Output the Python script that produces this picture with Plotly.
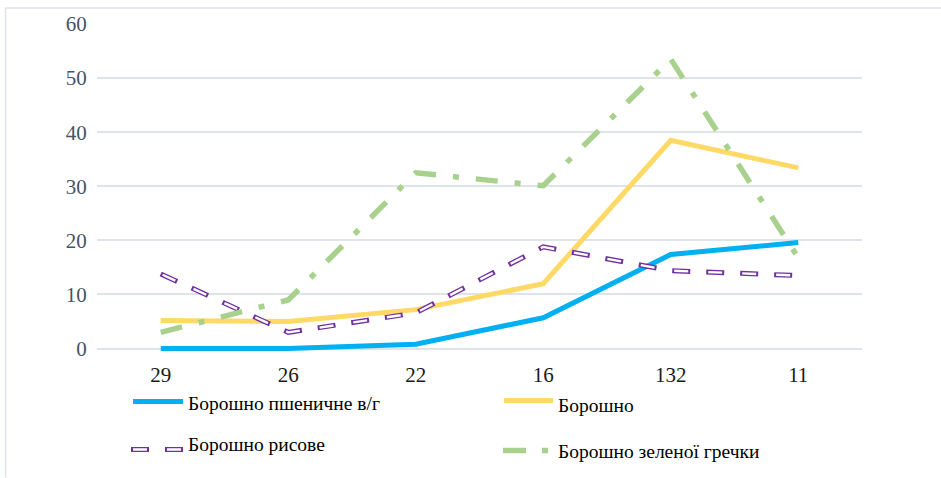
import plotly.graph_objects as go

# Samples along the x axis
categories = ["29", "26", "22", "16", "132", "11"]

# Series values
wheat_hg = [0.0, 0.0, 0.8, 5.7, 17.4, 19.6]
flour = [5.2, 5.0, 7.2, 12.0, 38.5, 33.4]
rice = [13.8, 3.0, 6.6, 18.8, 14.4, 13.5]
green_buckwheat = [3.0, 9.0, 32.5, 30.1, 53.5, 16.8]

series_names = [
    "Борошно пшеничне в/г",
    "Борошно",
    "Борошно рисове",
    "Борошно зеленої гречки",
]

y_ticks = [0, 10, 20, 30, 40, 50, 60]
y_range = [-1, 60]

BLUE = "#00b0f0"
YELLOW = "#ffd966"
PURPLE = "#7030a0"
GREEN = "#a9d18e"
SERIF = "Liberation Serif, Times New Roman, serif"

W, H = 941, 478
UNIT = 5.417          # pixels per y unit
ZERO_Y = 349          # pixel row of the y = 0 gridline
L, R, T = 97, 79, 24
B = H - (ZERO_Y - y_range[0] * UNIT)
PW, PH = W - L - R, H - T - B

RICE_OUTER = "18px,16px"
RICE_INNER = "0px,2px,14px,18px"
BUCK_DASH = "22px,17px,6px,17px"

fig = go.Figure()

fig.add_trace(go.Scatter(x=categories, y=wheat_hg, mode="lines", name=series_names[0],
                         line=dict(color=BLUE, width=5)))
fig.add_trace(go.Scatter(x=categories, y=flour, mode="lines", name=series_names[1],
                         line=dict(color=YELLOW, width=5)))
# hollow dashes: purple stroke with a thinner white stroke inside
fig.add_trace(go.Scatter(x=categories, y=rice, mode="lines", name=series_names[2],
                         line=dict(color=PURPLE, width=5, dash=RICE_OUTER)))
fig.add_trace(go.Scatter(x=categories, y=rice, mode="lines", showlegend=False,
                         hoverinfo="skip",
                         line=dict(color="white", width=2.4, dash=RICE_INNER)))
fig.add_trace(go.Scatter(x=categories, y=green_buckwheat, mode="lines", name=series_names[3],
                         line=dict(color=GREEN, width=5.5, dash=BUCK_DASH)))


def px(x):
    return (x - L) / PW


def py(y):
    return (H - B - y) / PH


shapes = [
    # outer frame lines
    dict(type="line", xref="paper", yref="paper", x0=px(5), x1=px(941), y0=py(8), y1=py(8),
         line=dict(color="#dfe3ea", width=1.5)),
    dict(type="line", xref="paper", yref="paper", x0=px(5.5), x1=px(5.5), y0=py(8), y1=py(478),
         line=dict(color="#dfe3ea", width=1.5)),
]

# legend keys
legend_items = [
    (series_names[0], 133, 183, 402, 186, 404, dict(color=BLUE, width=5)),
    (series_names[1], 504, 553, 401, 556, 406, dict(color=YELLOW, width=5)),
    (series_names[2], 131, 184, 450, 186, 445, None),
    (series_names[3], 503, 553, 451, 556, 452, dict(color=GREEN, width=5.5, dash="23px,16px,6px,20px")),
]

annotations = []
for name, x0, x1, ly, tx, ty, ln in legend_items:
    if ln is None:
        shapes.append(dict(type="line", xref="paper", yref="paper", x0=px(x0), x1=px(x1),
                           y0=py(ly), y1=py(ly), line=dict(color=PURPLE, width=5, dash=RICE_OUTER)))
        shapes.append(dict(type="line", xref="paper", yref="paper", x0=px(x0), x1=px(x1),
                           y0=py(ly), y1=py(ly), line=dict(color="white", width=2.4, dash=RICE_INNER)))
    else:
        shapes.append(dict(type="line", xref="paper", yref="paper", x0=px(x0), x1=px(x1),
                           y0=py(ly), y1=py(ly), line=ln))
    annotations.append(dict(text=name, xref="paper", yref="paper", x=px(tx), y=py(ty),
                            xanchor="left", yanchor="middle", showarrow=False,
                            font=dict(family=SERIF, size=19.5, color="#000000")))

fig.update_layout(
    width=W, height=H,
    margin=dict(l=L, r=R, t=T, b=B),
    paper_bgcolor="white",
    plot_bgcolor="white",
    showlegend=False,
    font=dict(family=SERIF),
    shapes=shapes,
    annotations=annotations,
    xaxis=dict(
        type="category",
        categoryorder="array", categoryarray=categories,
        range=[-0.5, len(categories) - 0.5],
        showgrid=False, zeroline=False, showline=False,
        ticks="outside", ticklen=2, tickcolor="rgba(0,0,0,0)",
        tickfont=dict(family=SERIF, size=21, color="#1a1a1a"),
    ),
    yaxis=dict(
        range=y_range,
        tickvals=y_ticks,
        showgrid=True, gridcolor="#dfe3ea", gridwidth=1.5,
        zeroline=False, showline=False,
        ticks="outside", ticklen=5, tickcolor="rgba(0,0,0,0)",
        tickfont=dict(family=SERIF, size=21, color="#44546a"),
    ),
)

fig.write_html("out.html")
